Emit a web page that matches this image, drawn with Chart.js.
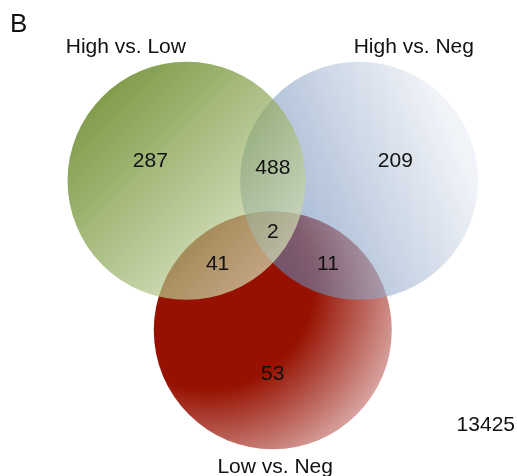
<!DOCTYPE html>
<html>
<head>
<meta charset="utf-8">
<script src="https://cdn.jsdelivr.net/npm/chart.js@4"></script>
<style>
    body { margin: 0; background: #fff; }
</style>
</head>
<body>
<canvas id="venn" width="517" height="476"></canvas>
<script>
const setNames = ['High vs. Low', 'High vs. Neg', 'Low vs. Neg']
const onlyCounts = [287, 209, 53]
// overlaps of two sets, see pairSets for which ones
const pairCounts = [488, 11, 41]
const pairSets = [[0, 1], [1, 2], [0, 2]]
const allCount = 2
const outsideCount = 13425

// layout in circle-radius units, centroid of the three centres at 0,0
const xRange = [-2.2924, 2.0521]
const yRange = [-2.0622, 1.9378]
const centerDist = 0.837
const centerAngles = [150, 30, 270]
const centers = centerAngles.map(a => ({
    x: centerDist * Math.cos(a * Math.PI / 180),
    y: centerDist * Math.sin(a * Math.PI / 180)
}))
const nameOffsets = [[-0.51, 1.07], [0.46, 1.07], [0.02, -1.2]]
const onlyPush = 1.42
const pairPush = 1.28

// gradient per circle, points relative to the centre (radial: focus + reach)
const fills = [
    { from: [-0.7, 0.7], to: [0.7, -0.7], stops: [[0, 'rgba(76,116,0,0.7)'], [1, 'rgba(212,224,183,0.7)']] },
    { from: [-0.8, -0.3], to: [0.8, 0.4], stops: [[0, 'rgba(97,130,177,0.6)'], [1, 'rgba(232,236,244,0.6)']] },
    { focus: [-0.55, 0.4], reach: 1.9, stops: [[0, 'rgb(150,17,0)'], [0.47, 'rgb(150,17,0)'], [1, 'rgb(235,205,205)']] }
]

const font = '"Liberation Sans", Arial, sans-serif'

const canvas = document.getElementById('venn')
const ctx2d = canvas.getContext('2d')

// axes are hidden and unpadded, so one unit is a fixed number of pixels
const unit = canvas.width / (xRange[1] - xRange[0])
const toPx = (ux, uy) => [(ux - xRange[0]) * unit, (yRange[1] - uy) * unit]

const gradients = fills.map((f, i) => {
    const c = centers[i]
    let g
    if (f.focus) {
        const [fx, fy] = toPx(c.x + f.focus[0], c.y + f.focus[1])
        g = ctx2d.createRadialGradient(fx, fy, 0, fx, fy, f.reach * unit)
    } else {
        g = ctx2d.createLinearGradient(
            ...toPx(c.x + f.from[0], c.y + f.from[1]),
            ...toPx(c.x + f.to[0], c.y + f.to[1]))
    }
    f.stops.forEach(([o, col]) => g.addColorStop(o, col))
    return g
})

const vennLabels = {
    id: 'vennLabels',
    afterDatasetsDraw(chart) {
        const { ctx, scales: { x, y } } = chart
        ctx.save()
        ctx.fillStyle = '#111'
        ctx.textAlign = 'center'
        ctx.textBaseline = 'alphabetic'
        ctx.font = '21px ' + font

        // numbers are centred on their spot, so drop by half the cap height
        const put = (txt, ux, uy) => ctx.fillText(txt, x.getPixelForValue(ux), y.getPixelForValue(uy) + 7.5)

        onlyCounts.forEach((n, i) => put(n, centers[i].x * onlyPush, centers[i].y * onlyPush))
        pairCounts.forEach((n, k) => {
            const [a, b] = pairSets[k]
            put(n, (centers[a].x + centers[b].x) / 2 * pairPush, (centers[a].y + centers[b].y) / 2 * pairPush)
        })
        put(allCount, 0, 0)

        setNames.forEach((name, i) => {
            ctx.fillText(name,
                x.getPixelForValue(centers[i].x + nameOffsets[i][0]),
                y.getPixelForValue(centers[i].y + nameOffsets[i][1]))
        })

        ctx.textAlign = 'right'
        ctx.fillText(outsideCount, x.right - 2, y.getPixelForValue(-1.684))

        ctx.textAlign = 'left'
        ctx.font = '26px ' + font
        ctx.fillText('B', 10, 32)
        ctx.restore()
    }
}

new Chart(canvas, {
    type: 'bubble',
    data: {
        datasets: setNames.map((name, i) => ({
            label: name,
            data: [{ x: centers[i].x, y: centers[i].y }],
            backgroundColor: gradients[i],
            borderWidth: 0,
            radius: unit,
            clip: false
        }))
    },
    options: {
        responsive: false,
        animation: false,
        events: [],
        layout: { padding: 0, autoPadding: false },
        scales: {
            x: { type: 'linear', min: xRange[0], max: xRange[1], display: false },
            y: { type: 'linear', min: yRange[0], max: yRange[1], display: false }
        },
        plugins: {
            legend: { display: false },
            tooltip: { enabled: false }
        }
    },
    plugins: [vennLabels]
})
</script>
</body>
</html>
